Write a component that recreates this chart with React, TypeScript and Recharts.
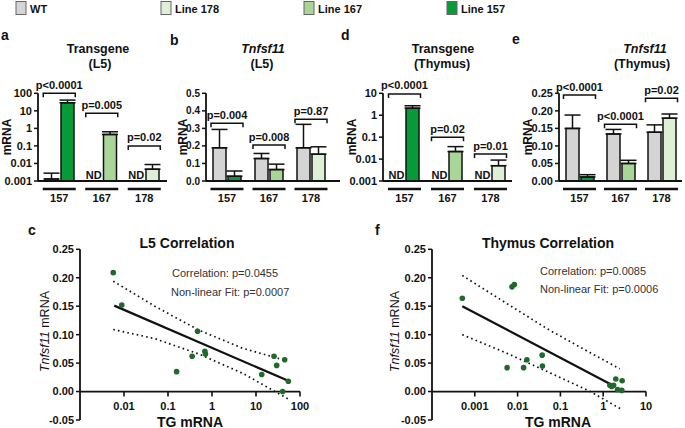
import React from "react";
import {
  BarChart,
  Bar,
  XAxis,
  YAxis,
  ErrorBar,
  Cell,
  ReferenceDot,
  ReferenceLine,
  ComposedChart,
  Line,
  Scatter,
} from "recharts";

const FONT = "'Liberation Sans', Arial, Helvetica, sans-serif";
const INK = "#111";
const WT_COLOR = "#d4d4d4";
const LINE_COLORS: Record<string, string> = { "157": "#079a39", "167": "#aad599", "178": "#ddf0d6" };
const DOT_COLOR = "#1f6a2b";

const lines = ["157", "167", "178"];

// a: Transgene (L5), log axis
const tgL5Wt = [0.0013, null, null];
const tgL5WtErr = [0.0015, null, null];
const tgL5Tg = [29, 0.45, 0.0047];
const tgL5TgErr = [12, 0.19, 0.004];
const tgL5Brackets = [100, 7.2, 0.1];
const tgL5P = ["p<0.0001", "p=0.005", "p=0.02"];

// b: Tnfsf11 (L5)
const tnfL5Wt = [0.189, 0.128, 0.189];
const tnfL5WtErr = [0.105, 0.029, 0.134];
const tnfL5Tg = [0.027, 0.065, 0.153];
const tnfL5TgErr = [0.03, 0.031, 0.042];
const tnfL5Brackets = [0.329, 0.205, 0.352];
const tnfL5P = ["p=0.004", "p=0.008", "p=0.87"];

// d: Transgene (Thymus), log axis
const tgThyWt = [null, null, null];
const tgThyWtErr = [null, null, null];
const tgThyTg = [2.1, 0.022, 0.005];
const tgThyTgErr = [0.6, 0.015, 0.004];
const tgThyBrackets = [9.3, 0.1, 0.017];
const tgThyP = ["p<0.0001", "p=0.02", "p=0.01"];

// e: Tnfsf11 (Thymus)
const tnfThyWt = [0.15, 0.134, 0.139];
const tnfThyWtErr = [0.038, 0.013, 0.021];
const tnfThyTg = [0.0115, 0.05, 0.179];
const tnfThyTgErr = [0.0065, 0.009, 0.012];
const tnfThyBrackets = [0.245, 0.162, 0.236];
const tnfThyP = ["p<0.0001", "p<0.0001", "p=0.02"];

const logTicksL5 = [0.001, 0.01, 0.1, 1, 10, 100];
const logTicksThy = [0.001, 0.01, 0.1, 1, 10];
const linTicksL5 = [0, 0.1, 0.2, 0.3, 0.4, 0.5];
const linTicksThy = [0, 0.05, 0.1, 0.15, 0.2, 0.25];

// c: L5 correlation
const l5TgX = [0.0057, 0.0089, 0.157, 0.354, 0.47, 0.69, 0.71, 13.5, 25.7, 29.5, 44.9, 40.4, 54.3];
const l5TnfY = [0.209, 0.152, 0.035, 0.062, 0.106, 0.0706, 0.066, 0.03, 0.062, 0.046, 0.056, 0.0, 0.018];
const l5FitX = [0.006, 54];
const l5FitY = [0.151, 0.019];
const l5UpperX = [0.0057, 0.05, 0.5, 5, 45];
const l5UpperY = [0.194, 0.15, 0.108, 0.076, 0.055];
const l5LowerX = [0.0057, 0.05, 0.5, 5, 54];
const l5LowerY = [0.109, 0.093, 0.066, 0.032, -0.013];
const l5XTicks = [0.01, 0.1, 1, 10, 100];

// f: Thymus correlation
const thyTgX = [0.00051, 0.0057, 0.0074, 0.0084, 0.0138, 0.0165, 0.0375, 0.038, 1.43, 1.58, 1.75, 1.97, 2.16, 2.72, 2.77];
const thyTnfY = [0.164, 0.042, 0.184, 0.188, 0.042, 0.056, 0.064, 0.045, 0.011, 0.009, 0.011, 0.022, 0.0035, 0.002, 0.019];
const thyFitX = [0.00051, 1.57];
const thyFitY = [0.15, 0.012];
const thyUpperX = [0.00051, 0.005, 0.05, 0.5, 2.44];
const thyUpperY = [0.204, 0.157, 0.11, 0.068, 0.04];
const thyLowerX = [0.00051, 0.005, 0.05, 0.5, 2.5];
const thyLowerY = [0.1, 0.069, 0.035, 0.0, -0.03];
const thyXTicks = [0.001, 0.01, 0.1, 1, 10];

const corrYTicks = [-0.05, 0, 0.05, 0.1, 0.15, 0.2, 0.25];

const zip = (xs: number[], ys: number[]) => xs.map((x, i) => ({ x, y: ys[i] }));

function makeRows(wt: any[], wtErr: any[], tg: number[], tgErr: number[]) {
  return lines.map((line, i) => ({
    line,
    wt: wt[i] == null ? undefined : wt[i],
    wtErr: wtErr[i] == null ? undefined : [0, wtErr[i]],
    tg: tg[i],
    tgErr: [0, tgErr[i]],
  }));
}

function Bracket({ cx, cy, text }: any) {
  const half = 16;
  return (
    <g>
      <path d={`M${cx - half},${cy + 4}V${cy}H${cx + half}V${cy + 4}`} fill="none" stroke={INK} strokeWidth={1.5} />
      <text x={cx} y={cy - 4.5} textAnchor="middle" fontSize={11} fontWeight={700} fontFamily={FONT} fill={INK}>
        {text}
      </text>
    </g>
  );
}

function GroupTick({ x, y, payload }: any) {
  return (
    <g>
      <line x1={x - 16.5} x2={x + 16.5} y1={y} y2={y} stroke={INK} strokeWidth={2.5} />
      <text x={x} y={y + 12.5} textAnchor="middle" fontSize={11} fontWeight={700} fontFamily={FONT} fill={INK}>
        {payload.value}
      </text>
    </g>
  );
}

function BarPanel({ left, width, padRight, rows, scale, domain, ticks, fmt, brackets, pvals, tickFont, gap }: any) {
  return (
    <div style={{ position: "absolute", left, top: 60 }}>
      <BarChart
        width={width}
        height={151}
        data={rows}
        margin={{ top: 33.3, right: 2, bottom: 0, left: 0 }}
        barSize={13}
        barGap={gap}
      >
        <XAxis
          dataKey="line"
          height={30}
          interval={0}
          tickLine={false}
          padding={{ left: 0, right: padRight }}
          axisLine={{ stroke: INK, strokeWidth: 1.8 }}
          tick={(p: any) => <GroupTick {...p} />}
        />
        <YAxis
          type="number"
          scale={scale}
          domain={domain}
          ticks={ticks}
          allowDataOverflow
          width={36}
          interval={0}
          tickFormatter={fmt}
          tickSize={4}
          tickMargin={2}
          axisLine={{ stroke: INK, strokeWidth: 1.8 }}
          tickLine={{ stroke: INK, strokeWidth: 1.5 }}
          tick={{ fill: INK, fontSize: tickFont, fontWeight: 700, fontFamily: FONT }}
        />
        <Bar dataKey="wt" fill={WT_COLOR} stroke={INK} strokeWidth={1.5} isAnimationActive={false}>
          <ErrorBar dataKey="wtErr" width={8} stroke={INK} strokeWidth={1.5} />
        </Bar>
        <Bar dataKey="tg" stroke={INK} strokeWidth={1.5} isAnimationActive={false}>
          {rows.map((r: any) => (
            <Cell key={r.line} fill={LINE_COLORS[r.line]} />
          ))}
          <ErrorBar dataKey="tgErr" width={8} stroke={INK} strokeWidth={1.5} />
        </Bar>
        {rows.map((r: any, i: number) => (
          <ReferenceDot
            key={"br" + r.line}
            x={r.line}
            y={brackets[i]}
            r={1}
            ifOverflow="visible"
            shape={(p: any) => <Bracket cx={p.cx} cy={p.cy} text={pvals[i]} />}
          />
        ))}
        {rows
          .filter((r: any) => r.wt == null)
          .map((r: any) => (
            <ReferenceDot
              key={"nd" + r.line}
              x={r.line}
              y={domain[0]}
              r={1}
              ifOverflow="visible"
              shape={(p: any) => (
                <text
                  x={p.cx - 8}
                  y={p.cy - 2.5}
                  textAnchor="middle"
                  fontSize={11}
                  fontWeight={700}
                  fontFamily={FONT}
                  fill={INK}
                >
                  ND
                </text>
              )}
            />
          ))}
      </BarChart>
    </div>
  );
}

function XTick({ cx, cy, label }: any) {
  return (
    <g>
      <line x1={cx} x2={cx} y1={cy} y2={cy + 5} stroke={INK} strokeWidth={1.6} />
      <text x={cx} y={cy + 18} textAnchor="middle" fontSize={11} fontWeight={700} fontFamily={FONT} fill={INK}>
        {label}
      </text>
    </g>
  );
}

function ScatterPanel({ left, width, domain, xTicks, points, fit, upper, lower }: any) {
  return (
    <div style={{ position: "absolute", left, top: 230 }}>
      <ComposedChart width={width} height={196} margin={{ top: 19.3, right: 10, bottom: 6, left: 0 }}>
        <XAxis type="number" dataKey="x" scale="log" domain={domain} allowDataOverflow hide />
        <YAxis
          type="number"
          dataKey="y"
          domain={[-0.05, 0.25]}
          ticks={corrYTicks}
          allowDataOverflow
          width={80}
          interval={0}
          tickFormatter={(v: number) => v.toFixed(2)}
          tickSize={4}
          tickMargin={2}
          axisLine={{ stroke: INK, strokeWidth: 1.8 }}
          tickLine={{ stroke: INK, strokeWidth: 1.5 }}
          tick={{ fill: INK, fontSize: 11, fontWeight: 700, fontFamily: FONT }}
        />
        <ReferenceLine y={0} stroke={INK} strokeWidth={1.8} ifOverflow="visible" />
        {xTicks.map((t: number) => (
          <ReferenceDot
            key={"xt" + t}
            x={t}
            y={0}
            r={1}
            ifOverflow="visible"
            shape={(p: any) => <XTick cx={p.cx} cy={p.cy} label={String(t)} />}
          />
        ))}
        <Line data={upper} dataKey="y" stroke={INK} strokeWidth={1.7} strokeDasharray="1.6 3.2" dot={false} isAnimationActive={false} />
        <Line data={lower} dataKey="y" stroke={INK} strokeWidth={1.7} strokeDasharray="1.6 3.2" dot={false} isAnimationActive={false} />
        <Line data={fit} dataKey="y" stroke={INK} strokeWidth={2.2} dot={false} isAnimationActive={false} />
        <Scatter
          data={points}
          fill={DOT_COLOR}
          isAnimationActive={false}
          shape={(p: any) => <circle cx={p.cx} cy={p.cy} r={2.8} fill={DOT_COLOR} />}
        />
      </ComposedChart>
    </div>
  );
}

function Overlay() {
  const bold = { fontFamily: FONT, fontWeight: 700, fill: INK } as const;
  const legend = [
    { x: 16, label: "WT", color: WT_COLOR },
    { x: 161, label: "Line 178", color: LINE_COLORS["178"] },
    { x: 304, label: "Line 167", color: LINE_COLORS["167"] },
    { x: 447, label: "Line 157", color: LINE_COLORS["157"] },
  ];
  return (
    <svg width={685} height={428} style={{ position: "absolute", left: 0, top: 0, pointerEvents: "none" }}>
      {legend.map((l) => (
        <g key={l.label}>
          <rect x={l.x} y={1.5} width={10} height={13} fill={l.color} stroke="#666" strokeWidth={1} />
          <text x={l.x + 14} y={12.5} fontSize={11} {...bold} style={{ fontStretch: "condensed" }}>
            {l.label}
          </text>
        </g>
      ))}

      <text x={1} y={39.5} fontSize={14} {...bold}>a</text>
      <text x={170} y={45} fontSize={14} {...bold}>b</text>
      <text x={341} y={40} fontSize={14} {...bold}>d</text>
      <text x={512} y={43.5} fontSize={14} {...bold}>e</text>
      <text x={28} y={235} fontSize={14} {...bold}>c</text>
      <text x={375} y={235} fontSize={14} {...bold}>f</text>

      <text x={98} y={52.5} fontSize={12.5} textAnchor="middle" {...bold}>Transgene</text>
      <text x={100} y={67.5} fontSize={12.5} textAnchor="middle" {...bold}>(L5)</text>
      <text x={263} y={52.5} fontSize={12.5} textAnchor="middle" fontStyle="italic" {...bold}>Tnfsf11</text>
      <text x={262} y={67.5} fontSize={12.5} textAnchor="middle" {...bold}>(L5)</text>
      <text x={443} y={52.5} fontSize={12.5} textAnchor="middle" {...bold}>Transgene</text>
      <text x={442} y={67.5} fontSize={12.5} textAnchor="middle" {...bold}>(Thymus)</text>
      <text x={645} y={52.5} fontSize={12.5} textAnchor="middle" fontStyle="italic" {...bold}>Tnfsf11</text>
      <text x={642} y={67.5} fontSize={12.5} textAnchor="middle" {...bold}>(Thymus)</text>

      {[11, 187, 356, 532].map((x) => (
        <text key={x} x={x} y={137} fontSize={12} textAnchor="middle" transform={`rotate(-90 ${x} 137)`} {...bold}>
          mRNA
        </text>
      ))}

      <text x={187} y={248} fontSize={14} textAnchor="middle" {...bold}>L5 Correlation</text>
      <text x={548} y={248} fontSize={14} textAnchor="middle" {...bold}>Thymus Correlation</text>

      <text x={172} y={277} fontSize={11} fontFamily={FONT} fill="#333">Correlation: p=0.0455</text>
      <text x={171} y={296} fontSize={11} fontFamily={FONT} fill="#333">Non-linear Fit: p=0.0007</text>
      <text x={540} y={275} fontSize={11} fontFamily={FONT} fill="#333">Correlation: p=0.0085</text>
      <text x={540} y={293} fontSize={11} fontFamily={FONT} fill="#333">Non-linear Fit: p=0.0006</text>

      <text x={190} y={426.5} fontSize={14} textAnchor="middle" {...bold}>TG mRNA</text>
      <text x={558} y={426.5} fontSize={14} textAnchor="middle" {...bold}>TG mRNA</text>

      {[48.5, 398.5].map((x) => (
        <text
          key={x}
          x={x}
          y={331.5}
          fontSize={12.5}
          textAnchor="middle"
          fontFamily={FONT}
          fill={INK}
          transform={`rotate(-90 ${x} 331.5)`}
        >
          <tspan fontStyle="italic">Tnfsf11</tspan> mRNA
        </text>
      ))}
    </svg>
  );
}

export default function App() {
  const rowsA = makeRows(tgL5Wt, tgL5WtErr, tgL5Tg, tgL5TgErr);
  const rowsB = makeRows(tnfL5Wt, tnfL5WtErr, tnfL5Tg, tnfL5TgErr);
  const rowsD = makeRows(tgThyWt, tgThyWtErr, tgThyTg, tgThyTgErr);
  const rowsE = makeRows(tnfThyWt, tnfThyWtErr, tnfThyTg, tnfThyTgErr);
  const logFmt = (v: number) => String(v);

  return (
    <div
      style={{
        position: "fixed",
        left: 0,
        top: 0,
        width: 685,
        height: 428,
        background: "#fff",
        overflow: "hidden",
        fontFamily: FONT,
      }}
    >
      <BarPanel
        left={2}
        width={167}
        padRight={1.5}
        rows={rowsA}
        scale="log"
        domain={[0.001, 100]}
        ticks={logTicksL5}
        fmt={logFmt}
        brackets={tgL5Brackets}
        pvals={tgL5P}
        tickFont={11}
        gap={3}
      />
      <BarPanel
        left={170}
        width={172}
        padRight={8}
        rows={rowsB}
        scale="linear"
        domain={[0, 0.5]}
        ticks={linTicksL5}
        fmt={(v: number) => v.toFixed(1)}
        brackets={tnfL5Brackets}
        pvals={tnfL5P}
        tickFont={10}
        gap={2}
      />
      <BarPanel
        left={347}
        width={167}
        padRight={0}
        rows={rowsD}
        scale="log"
        domain={[0.001, 10]}
        ticks={logTicksThy}
        fmt={logFmt}
        brackets={tgThyBrackets}
        pvals={tgThyP}
        tickFont={11}
        gap={2}
      />
      <BarPanel
        left={523}
        width={161}
        padRight={0}
        rows={rowsE}
        scale="linear"
        domain={[0, 0.25]}
        ticks={linTicksThy}
        fmt={(v: number) => v.toFixed(2)}
        brackets={tnfThyBrackets}
        pvals={tnfThyP}
        tickFont={11}
        gap={2}
      />
      <ScatterPanel
        left={0}
        width={310}
        domain={[0.001, 100]}
        xTicks={l5XTicks}
        points={zip(l5TgX, l5TnfY)}
        fit={zip(l5FitX, l5FitY)}
        upper={zip(l5UpperX, l5UpperY)}
        lower={zip(l5LowerX, l5LowerY)}
      />
      <ScatterPanel
        left={352}
        width={304}
        domain={[0.0001, 10]}
        xTicks={thyXTicks}
        points={zip(thyTgX, thyTnfY)}
        fit={zip(thyFitX, thyFitY)}
        upper={zip(thyUpperX, thyUpperY)}
        lower={zip(thyLowerX, thyLowerY)}
      />
      <Overlay />
    </div>
  );
}
